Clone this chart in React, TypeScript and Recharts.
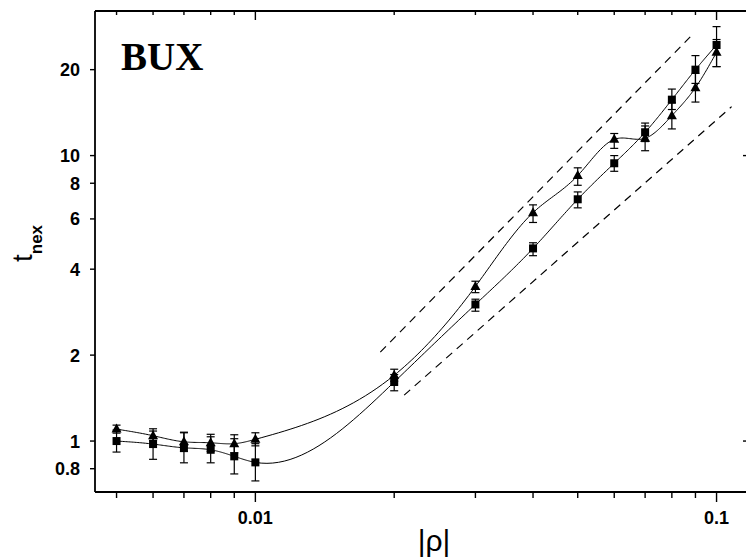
import React from "react";
import {
  ComposedChart,
  Line,
  XAxis,
  YAxis,
  ErrorBar,
  ReferenceLine,
} from "recharts";

// |rho| values shared by both series
const rho = [0.005, 0.006, 0.007, 0.008, 0.009, 0.01, 0.02, 0.03, 0.04, 0.05, 0.06, 0.07, 0.08, 0.09, 0.1];

// squares
const squares = [1.0, 0.976, 0.947, 0.932, 0.884, 0.842, 1.61, 3.01, 4.73, 7.03, 9.4, 12.07, 15.7, 20.0, 24.4];
const squareErrLow = [0.085, 0.113, 0.108, 0.093, 0.117, 0.117, 0.11, 0.16, 0.27, 0.47, 0.59, 0.87, 1.2, 2.1, 3.9];
const squareErrHigh = [0.093, 0.128, 0.122, 0.103, 0.135, 0.137, 0.1, 0.13, 0.22, 0.43, 0.6, 0.93, 1.4, 2.4, 3.9];

// triangles
const triangles = [1.101, 1.044, 0.994, 0.986, 0.979, 1.014, 1.7, 3.48, 6.31, 8.51, 11.4, 11.5, 13.8, 17.3, 23.0];
const triangleErrLow = [0.035, 0.038, 0.075, 0.066, 0.069, 0.052, 0.08, 0.17, 0.48, 0.64, 0.8, 1.1, 1.4, 1.9, 2.5];
const triangleErrHigh = [0.036, 0.04, 0.08, 0.07, 0.073, 0.055, 0.085, 0.15, 0.41, 0.55, 0.55, 1.2, 1.5, 2.1, 2.5];

// dashed guide lines (two end points each)
const upperGuideX = [0.01866, 0.0891];
const upperGuideY = [2.05, 26.75];
const lowerGuideX = [0.02102, 0.1078];
const lowerGuideY = [1.448, 14.84];

// ticks
const xTicks = [0.005, 0.006, 0.007, 0.008, 0.009, 0.01, 0.02, 0.03, 0.04, 0.05, 0.06, 0.07, 0.08, 0.09, 0.1];
const xLabelled = [0.01, 0.1];
const yTicks = [0.8, 1, 2, 4, 6, 8, 10, 20];
const yRightTicks = [1, 10];

const data = rho.map((x, i) => ({
  x,
  sq: squares[i],
  sqErr: [squareErrLow[i], squareErrHigh[i]],
  tri: triangles[i],
  triErr: [triangleErrLow[i], triangleErrHigh[i]],
}));

const labelFont = "'Liberation Sans', Arial, Helvetica, sans-serif";

// natural cubic spline of y as a function of x (screen coords), like the original plot's spline connector
const splineCurve = (context: any) => {
  let px: number[] = [];
  let py: number[] = [];
  return {
    areaStart() {},
    areaEnd() {},
    lineStart() {
      px = [];
      py = [];
    },
    point(x: number, y: number) {
      px.push(+x);
      py.push(+y);
    },
    lineEnd() {
      const n = px.length;
      if (!n) return;
      context.moveTo(px[0], py[0]);
      if (n < 3) {
        for (let i = 1; i < n; i++) context.lineTo(px[i], py[i]);
        return;
      }
      const h: number[] = [];
      for (let i = 0; i < n - 1; i++) h.push(px[i + 1] - px[i]);
      const a: number[] = new Array(n).fill(0);
      const b: number[] = new Array(n).fill(1);
      const c: number[] = new Array(n).fill(0);
      const d: number[] = new Array(n).fill(0);
      for (let i = 1; i < n - 1; i++) {
        a[i] = h[i - 1];
        b[i] = 2 * (h[i - 1] + h[i]);
        c[i] = h[i];
        d[i] = 6 * ((py[i + 1] - py[i]) / h[i] - (py[i] - py[i - 1]) / h[i - 1]);
      }
      for (let i = 1; i < n; i++) {
        const w = a[i] / b[i - 1];
        b[i] -= w * c[i - 1];
        d[i] -= w * d[i - 1];
      }
      const m: number[] = new Array(n).fill(0);
      m[n - 1] = d[n - 1] / b[n - 1];
      for (let i = n - 2; i >= 0; i--) m[i] = (d[i] - c[i] * m[i + 1]) / b[i];
      for (let i = 0; i < n - 1; i++) {
        const hi = h[i];
        const steps = 24;
        for (let s = 1; s <= steps; s++) {
          const x = px[i] + (hi * s) / steps;
          const A = px[i + 1] - x;
          const B = x - px[i];
          const y =
            (m[i] * A * A * A) / (6 * hi) +
            (m[i + 1] * B * B * B) / (6 * hi) +
            (py[i] / hi - (m[i] * hi) / 6) * A +
            (py[i + 1] / hi - (m[i + 1] * hi) / 6) * B;
          context.lineTo(x, y);
        }
      }
    },
  };
};

const BottomTick = (props: any) => {
  const { x, y, payload } = props;
  const major = xLabelled.includes(payload.value);
  return (
    <g>
      <line x1={x} x2={x} y1={y} y2={y + (major ? 10 : 6)} stroke="#000" strokeWidth={1.4} />
      {major && (
        <text x={x} y={y + 32} textAnchor="middle" fontFamily={labelFont} fontWeight="bold" fontSize={18} fill="#000">
          {String(payload.value)}
        </text>
      )}
    </g>
  );
};

const TopTick = (props: any) => {
  const { x, y, payload } = props;
  const major = xLabelled.includes(payload.value);
  return <line x1={x} x2={x} y1={y} y2={y + (major ? 9 : 4)} stroke="#000" strokeWidth={1.4} />;
};

const LeftTick = (props: any) => {
  const { x, y, payload } = props;
  return (
    <g>
      <line x1={x - 5} x2={x} y1={y} y2={y} stroke="#000" strokeWidth={1.4} />
      <text x={x - 15} y={y} dy="0.36em" textAnchor="end" fontFamily={labelFont} fontWeight="bold" fontSize={18} fill="#000">
        {String(payload.value)}
      </text>
    </g>
  );
};

const RightTick = (props: any) => {
  const { x, y } = props;
  return <line x1={x - 5} x2={x} y1={y} y2={y} stroke="#000" strokeWidth={1.4} />;
};

const squareDot = (props: any) => {
  const { cx, cy, index } = props;
  return <rect key={`sq-${index}`} x={cx - 4} y={cy - 4} width={8} height={8} fill="#000" />;
};

const triangleDot = (props: any) => {
  const { cx, cy, index } = props;
  return (
    <polygon
      key={`tri-${index}`}
      points={`${cx},${cy - 5.5} ${cx + 5},${cy + 3.5} ${cx - 5},${cy + 3.5}`}
      fill="#000"
    />
  );
};

const App = () => {
  return (
    <div style={{ position: "fixed", left: 0, top: 0, width: 746, height: 560, overflow: "hidden", background: "#fff" }}>
      <ComposedChart
        width={760}
        height={560}
        data={data}
        margin={{ top: 1, right: 2, bottom: 8, left: 35 }}
      >
        <XAxis
          dataKey="x"
          type="number"
          scale="log"
          domain={[0.00449, 0.117]}
          allowDataOverflow
          ticks={xTicks}
          interval={0}
          height={60}
          tickSize={0}
          tickMargin={0}
          tickLine={false}
          tick={<BottomTick />}
          axisLine={{ stroke: "#000", strokeWidth: 1.8 }}
        />
        <XAxis
          xAxisId="top"
          dataKey="x"
          type="number"
          scale="log"
          orientation="top"
          domain={[0.00449, 0.117]}
          allowDataOverflow
          ticks={xTicks}
          interval={0}
          height={10}
          tickSize={0}
          tickMargin={0}
          tickLine={false}
          tick={<TopTick />}
          axisLine={{ stroke: "#000", strokeWidth: 1.8 }}
        />
        <YAxis
          type="number"
          scale="log"
          domain={[0.663, 32.1]}
          allowDataOverflow
          ticks={yTicks}
          interval={0}
          width={60}
          tickSize={0}
          tickMargin={0}
          tickLine={false}
          tick={<LeftTick />}
          axisLine={{ stroke: "#000", strokeWidth: 1.8 }}
        />
        <YAxis
          yAxisId="right"
          orientation="right"
          type="number"
          scale="log"
          domain={[0.663, 32.1]}
          allowDataOverflow
          ticks={yRightTicks}
          interval={0}
          width={10}
          tickSize={0}
          tickMargin={0}
          tickLine={false}
          tick={<RightTick />}
          axisLine={false}
        />
        <ReferenceLine
          segment={[
            { x: upperGuideX[0], y: upperGuideY[0] },
            { x: upperGuideX[1], y: upperGuideY[1] },
          ]}
          stroke="#000"
          strokeWidth={1.2}
          strokeDasharray="8 6"
          ifOverflow="visible"
        />
        <ReferenceLine
          segment={[
            { x: lowerGuideX[0], y: lowerGuideY[0] },
            { x: lowerGuideX[1], y: lowerGuideY[1] },
          ]}
          stroke="#000"
          strokeWidth={1.2}
          strokeDasharray="8 6"
          ifOverflow="visible"
        />
        <Line
          dataKey="sq"
          type={splineCurve as any}
          stroke="#000"
          strokeWidth={1}
          dot={squareDot}
          activeDot={false}
          isAnimationActive={false}
        >
          <ErrorBar dataKey="sqErr" direction="y" width={4} stroke="#000" strokeWidth={1.2} />
        </Line>
        <Line
          dataKey="tri"
          type={splineCurve as any}
          stroke="#000"
          strokeWidth={1}
          dot={triangleDot}
          activeDot={false}
          isAnimationActive={false}
        >
          <ErrorBar dataKey="triErr" direction="y" width={4} stroke="#000" strokeWidth={1.2} />
        </Line>
        <text x={121} y={70} fontFamily="'Liberation Serif', 'Times New Roman', serif" fontWeight="bold" fontSize={39} fill="#000">
          BUX
        </text>
        <text x={434} y={551} textAnchor="middle" fontFamily={labelFont} fontSize={30} fill="#000">
          |ρ|
        </text>
        <text transform="translate(32,262) rotate(-90)" fontFamily={labelFont} fontSize={28} fill="#000">
          t
          <tspan dy={10} fontSize={17} fontWeight="bold">
            nex
          </tspan>
        </text>
      </ComposedChart>
    </div>
  );
};

export default App;
